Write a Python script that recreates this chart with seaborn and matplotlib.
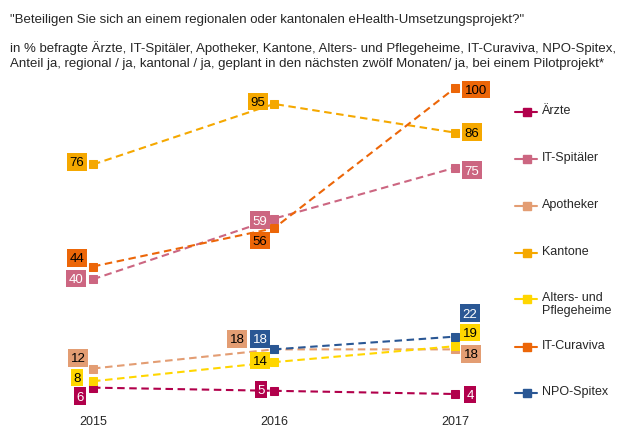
import matplotlib
matplotlib.use('Agg')
import matplotlib.pyplot as plt
import seaborn as sns
import numpy as np
from matplotlib.lines import Line2D
from matplotlib.path import Path

# Daten
years = [2015, 2016, 2017]
aerzte = [6, 5, 4]
it_spitaeler = [40, 59, 75]
apotheker = [12, 18, 18]
kantone = [76, 95, 86]
alters_pflege = [8, 14, 19]
it_curaviva = [44, 56, 100]
npo_spitex = [np.nan, 18, 22]

series = [
    ('Ärzte', aerzte, '#b1004b', 'white'),
    ('IT-Spitäler', it_spitaeler, '#cc6681', 'white'),
    ('Apotheker', apotheker, '#e39d73', 'black'),
    ('Kantone', kantone, '#f5a800', 'black'),
    ('Alters- und\nPflegeheime', alters_pflege, '#ffd600', 'black'),
    ('IT-Curaviva', it_curaviva, '#ec6608', 'black'),
    ('NPO-Spitex', npo_spitex, '#2a5794', 'white'),
]

# Verschiebung der Wertelabels (Pixel, dx nach rechts, dy nach unten)
offsets = {
    'Ärzte': [(-13, 9), (-13, -1), (15, 1)],
    'IT-Spitäler': [(-17, 0), (-14, 2), (17, 3)],
    'Apotheker': [(-15, -10), (-37, -10), (16, 5)],
    'Kantone': [(-16, -2), (-16, -2), (17, 0)],
    'Alters- und\nPflegeheime': [(-16, -3), (-14, -1), (15, -13)],
    'IT-Curaviva': [(-16, -8), (-14, 13), (21, 2)],
    'NPO-Spitex': [None, (-14, -10), (15, -23)],
}


def tight_box(x0, y0, width, height, mutation_size):
    # Kasten eng um die Ziffern (ohne Unterlänge)
    fs = mutation_size
    padx = 0.21 * fs
    pady = 0.30 * fs
    base = y0 + 0.21 * fs
    b = base - pady
    t = base + 0.72 * fs + pady
    l = x0 - padx
    r = x0 + width + padx
    return Path([(l, b), (r, b), (r, t), (l, t), (l, b)], closed=True)


sns.set_style('white')
plt.rcParams['font.family'] = ['Liberation Sans', 'DejaVu Sans']

W, H = 631, 429
fig = plt.figure(figsize=(W / 100, H / 100), dpi=100)

# Achsen: x 40..500 px, y 70..410 px
ax = fig.add_axes([40 / W, (H - 410) / H, 460 / W, 340 / H])
ax.set_xlim(2015 - 53 / 181, 2017 + 45 / 181)
ax.set_ylim((406.75 - 410) / 3.1875, (406.75 - 70) / 3.1875)

px2pt = 0.72
for name, vals, color, tcolor in series:
    sns.lineplot(x=years, y=vals, ax=ax, color=color, linewidth=1.5,
                 marker='s', markersize=6, markeredgecolor=color,
                 dashes=False, linestyle=(0, (3.6, 2.2)), zorder=2)
    for i, (yr, v) in enumerate(zip(years, vals)):
        off = offsets[name][i]
        if off is None or np.isnan(v):
            continue
        ax.annotate(str(int(v)), (yr, v), xytext=(off[0] * px2pt, -(off[1] + 1) * px2pt),
                    textcoords='offset points', ha='center', va='center',
                    fontsize=9.5, color=tcolor, zorder=5,
                    bbox=dict(boxstyle=tight_box, fc=color, ec='none'))

ax.set_xticks(years)
ax.set_xticklabels([str(y) for y in years], fontsize=9)
ax.tick_params(axis='x', length=0, pad=4)
ax.set_yticks([])
ax.set_xlabel('')
ax.set_ylabel('')
sns.despine(ax=ax, left=True, bottom=True)

# Kopftexte
fig.text(10 / W, 1 - 20 / H, '"Beteiligen Sie sich an einem regionalen oder kantonalen eHealth-Umsetzungsprojekt?"',
         fontsize=9.5, va='center', ha='left')
fig.text(10 / W, 1 - 48 / H,
         'in % befragte Ärzte, IT-Spitäler, Apotheker, Kantone, Alters- und Pflegeheime, IT-Curaviva, NPO-Spitex,',
         fontsize=9.5, va='center', ha='left')
fig.text(10 / W, 1 - 64 / H,
         'Anteil ja, regional / ja, kantonal / ja, geplant in den nächsten zwölf Monaten/ ja, bei einem Pilotprojekt*',
         fontsize=9.5, va='center', ha='left')

# Legende (manuell)
leg_y = [112, 159, 206, 253, 299, 347, 393]
for (name, vals, color, tcolor), y in zip(series, leg_y):
    fy = 1 - y / H
    fig.add_artist(Line2D([515 / W, 537 / W], [fy, fy], color=color, linewidth=1.5,
                          transform=fig.transFigure))
    fig.add_artist(Line2D([527 / W], [fy], color=color, marker='s', markersize=6,
                          transform=fig.transFigure))
    fig.text(542 / W, fy + 7 / H, name, fontsize=9, va='top', ha='left', linespacing=1.15)

fig.savefig('out.png', dpi=100)
